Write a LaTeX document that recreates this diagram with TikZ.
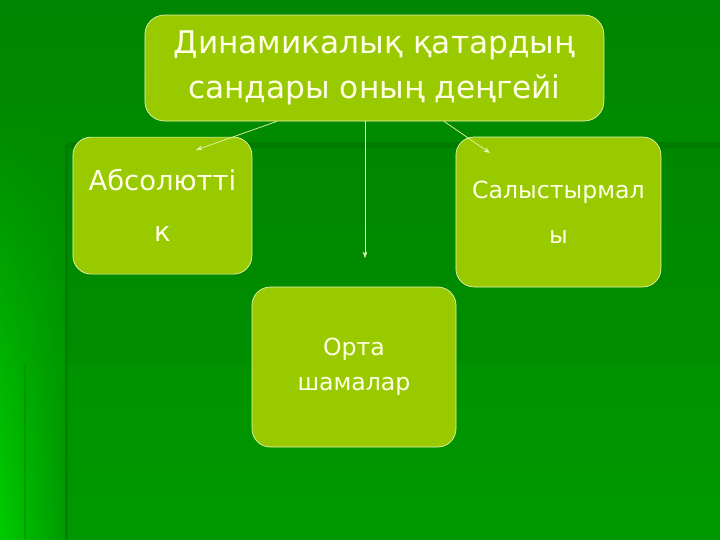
\documentclass[tikz,border=0pt]{standalone}
\usepackage{fontspec}
\setmainfont{DejaVu Sans}
\usepackage{xcolor}
\usepackage{tikz}
\usetikzlibrary{arrows.meta, positioning, calc, fadings}

\definecolor{slidetop}{HTML}{008600}
\definecolor{slidebot}{HTML}{009800}
\definecolor{slidelite}{HTML}{00CC00}
\definecolor{slidedark}{HTML}{006E00}
\definecolor{boxfill}{HTML}{99CA00}
\definecolor{boxline}{HTML}{E6F5B0}
\definecolor{boxtext}{HTML}{FFFFE6}

\begin{document}
\begin{tikzpicture}[
    % Styles
    topbox/.style={
        rectangle, rounded corners=14pt,
        minimum width=11.475cm, minimum height=2.65cm,
        draw=boxline, line width=0.5pt, fill=boxfill,
        text=boxtext, font=\fontsize{22.2}{32}\selectfont, align=center
    },
    subbox/.style={
        rectangle, rounded corners=13pt,
        draw=boxline, line width=0.5pt, fill=boxfill,
        text=boxtext, align=center, inner sep=2pt
    },
    arrow/.style={-{Stealth[length=1.6mm, width=1.2mm]}, draw=boxline, line width=0.5pt}
]

% === BACKGROUND ===
\useasboundingbox (0,0) rectangle (18,-13.5);
\shade[top color=slidetop, bottom color=slidebot] (0,0) rectangle (18,-13.5);
\shade[left color=slidelite, right color=slidebot, path fading=north] (0,-3) rectangle (1.7,-13.5);
\fill[slidedark, opacity=0.12] (1.675,-3.625) rectangle (18,-9.075);
\fill[slidedark, opacity=0.6] (1.63,-3.625) rectangle (1.71,-13.5);
\fill[slidedark, opacity=0.5] (1.675,-3.56) rectangle (18,-3.7);
\fill[slidedark, opacity=0.3] (0.6,-9.075) rectangle (0.66,-13.5);

% === NODES ===
\node (level) [topbox] at (9.36, -1.7) {Динамикалық қатардың\\ сандары оның деңгейі};
\node (absolute) [subbox, minimum width=4.475cm, minimum height=3.425cm,
    font=\fontsize{19.5}{36}\selectfont] at (4.06, -5.14) {Абсолютті\\к};
\node (relative) [subbox, minimum width=5.125cm, minimum height=3.75cm,
    font=\fontsize{16.8}{32}\selectfont] at (13.96, -5.3) {Салыстырмал\\ы};
\node (mean) [subbox, minimum width=5.1cm, minimum height=4cm,
    font=\fontsize{16.8}{25}\selectfont] at (8.85, -9.175) {Орта\\шамалар};

% arrow tips stop short of the boxes
\coordinate (tipA) at (4.9, -3.75);
\coordinate (tipM) at (9.125, -6.45);
\coordinate (tipR) at (12.25, -3.825);

% === ARROWS ===
\draw [arrow] (level.south -| 6.925,0) -- (tipA);
\draw [arrow] (level.south -| tipM) -- (tipM);
\draw [arrow] (level.south -| 11.1,0) -- (tipR);

\end{tikzpicture}
\end{document}
